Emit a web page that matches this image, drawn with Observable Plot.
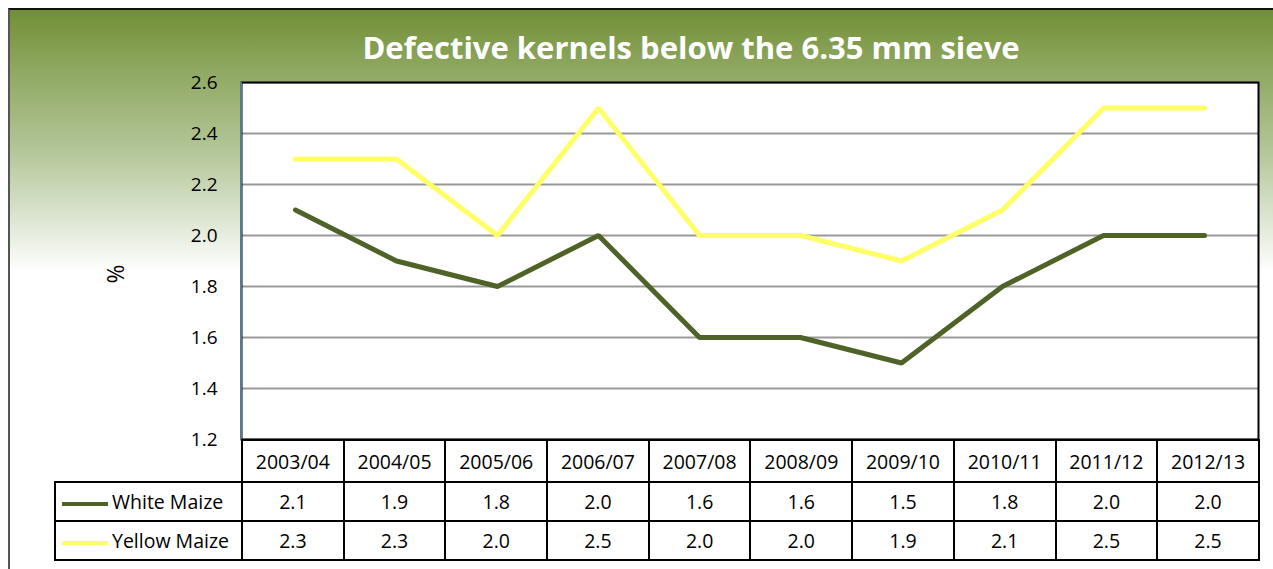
<!DOCTYPE html>
<html>
<head>
<meta charset="utf-8">
<script src="https://cdn.jsdelivr.net/npm/d3@7"></script>
<script src="https://cdn.jsdelivr.net/npm/@observablehq/plot@0.6"></script>
<style>
  html, body { margin: 0; padding: 0; background: #fff; }
  #wrap { position: relative; width: 1273px; height: 569px; overflow: hidden;
    font-family: "Open Sans", "Liberation Sans", sans-serif; }
  #bg { position: absolute; left: 8px; top: 8px; width: 1300px; height: 600px;
    background: linear-gradient(to bottom, #718f36 0px, #8fa862 60px, #b3c697 140px, #dde6d2 210px, #ffffff 262px);
    border-left: 2px solid #555; border-top: 2px solid #111; box-sizing: border-box; }
  #title { position: absolute; left: 0; width: 1382px; top: 26px; text-align: center;
    color: #fff; font-weight: bold; font-size: 31px; }
  #ylab { position: absolute; left: 103px; top: 262px; width: 24px; height: 24px; line-height: 24px;
    text-align: center; font-size: 23px; transform: rotate(-90deg); color: #000; }
  #chart { position: absolute; left: 0; top: 0; }
  #tbl { position: absolute; left: 54px; top: 439px; border-collapse: collapse; table-layout: fixed;
    font-size: 19.5px; color: #000; }
  #tbl td { border: 2px solid #000; text-align: center; padding: 0; background: #fff; }
  #tbl tr.hdr td { height: 40px; }
  #tbl tr.row td { height: 37px; }
  #tbl td.blank { border: none; background: transparent; }
  #tbl td.leg { text-align: left; white-space: nowrap; }
  .sw { display: inline-block; width: 46px; height: 4px; vertical-align: middle; margin: 0 4px 0 6px; }
  #axisline { position: absolute; left: 240px; top: 82px; width: 2px; height: 357px; background: #5b7a8e; }
</style>
</head>
<body>
<div id="wrap">
  <div id="bg"></div>
  <div id="title">Defective kernels below the 6.35 mm sieve</div>
  <div id="ylab">%</div>
  <div id="chart"></div>
  <div id="axisline"></div>
  <table id="tbl"></table>
</div>
<script>
const seasons = ["2003/04","2004/05","2005/06","2006/07","2007/08","2008/09","2009/10","2010/11","2011/12","2012/13"];
const whiteMaize = [2.1, 1.9, 1.8, 2.0, 1.6, 1.6, 1.5, 1.8, 2.0, 2.0];
const yellowMaize = [2.3, 2.3, 2.0, 2.5, 2.0, 2.0, 1.9, 2.1, 2.5, 2.5];
const seriesNames = ["White Maize", "Yellow Maize"];
const seriesColors = ["#4f6228", "#ffff66"];
const yTicks = [1.2, 1.4, 1.6, 1.8, 2.0, 2.2, 2.4, 2.6];

const rows = [];
[whiteMaize, yellowMaize].forEach((vals, si) => {
  vals.forEach((v, i) => rows.push({season: seasons[i], value: v, series: seriesNames[si]}));
});

const plot = Plot.plot({
  width: 1273,
  height: 569,
  marginLeft: 241,
  marginRight: 15,
  marginTop: 82,
  marginBottom: 130,
  style: { background: "transparent", fontFamily: "'Open Sans', 'Liberation Sans', sans-serif", fontSize: "19px", color: "#000" },
  x: { type: "point", domain: seasons, padding: 0.5, axis: null },
  y: { domain: [1.2, 2.6], ticks: yTicks },
  color: { domain: seriesNames, range: seriesColors },
  marks: [
    Plot.frame({ fill: "white", stroke: null }),
    Plot.gridY(yTicks, { stroke: "#999", strokeOpacity: 1, strokeWidth: 2 }),
    Plot.axisY(yTicks, { tickSize: 0, tickPadding: 24, tickFormat: d3.format(".1f"), fontSize: 19, label: null }),
    Plot.frame({ stroke: "#000", strokeWidth: 2 }),
    Plot.line(rows, { x: "season", y: "value", z: "series", stroke: "series", strokeWidth: 5, strokeLinecap: "round", strokeLinejoin: "miter" })
  ]
});
document.getElementById("chart").appendChild(plot);

// data table generated from the arrays
const tbl = document.getElementById("tbl");
const colg = document.createElement("colgroup");
const c0 = document.createElement("col"); c0.style.width = "187px"; colg.appendChild(c0);
seasons.forEach(() => { const c = document.createElement("col"); c.style.width = "101.7px"; colg.appendChild(c); });
tbl.appendChild(colg);
const hdr = document.createElement("tr"); hdr.className = "hdr";
const blank = document.createElement("td"); blank.className = "blank"; hdr.appendChild(blank);
seasons.forEach(s => { const td = document.createElement("td"); td.textContent = s; hdr.appendChild(td); });
tbl.appendChild(hdr);
[whiteMaize, yellowMaize].forEach((vals, si) => {
  const tr = document.createElement("tr"); tr.className = "row";
  const lg = document.createElement("td"); lg.className = "leg";
  const sw = document.createElement("span"); sw.className = "sw"; sw.style.background = seriesColors[si];
  lg.appendChild(sw); lg.appendChild(document.createTextNode(seriesNames[si]));
  tr.appendChild(lg);
  vals.forEach(v => { const td = document.createElement("td"); td.textContent = d3.format(".1f")(v); tr.appendChild(td); });
  tbl.appendChild(tr);
});
</script>
</body>
</html>
